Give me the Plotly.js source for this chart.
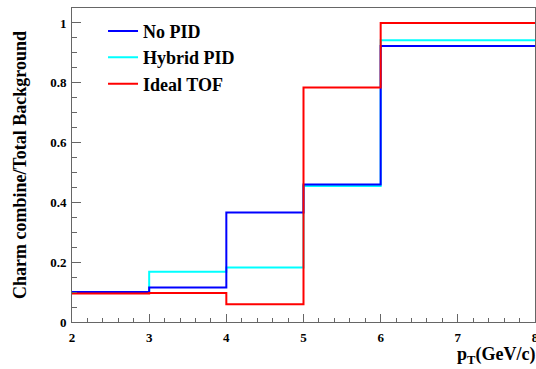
<!DOCTYPE html>
<html>
<head>
<meta charset="utf-8">
<script src="https://cdn.plot.ly/plotly-3.0.1.min.js"></script>
<style>html,body{margin:0;padding:0;background:#fff;}#chart{width:536px;height:369px;}</style>
</head>
<body>
<div id="chart"></div>
<script>
const binEdges = [2, 3, 4, 5, 6, 8];
const noPID = [0.100, 0.115, 0.366, 0.460, 0.923];
const hybridPID = [0.099, 0.168, 0.182, 0.455, 0.942];
const idealTOF = [0.095, 0.097, 0.059, 0.784, 1.000];
const seriesNames = ['No PID', 'Hybrid PID', 'Ideal TOF'];
const seriesColors = ['#0000ff', '#00ffff', '#ff0000'];

function stepY(v) { return v.concat([v[v.length - 1]]); }

const fam = 'Liberation Serif';
function f(size) { return {family: fam, size: size, weight: 'bold', color: '#000'}; }

function mk(vals, i, rank) {
  return {
    x: binEdges, y: stepY(vals), mode: 'lines', type: 'scatter',
    line: {shape: 'hv', color: seriesColors[i], width: 2},
    name: seriesNames[i], legendrank: rank,
    hoverinfo: 'skip'
  };
}

const traces = [mk(hybridPID, 1, 2), mk(noPID, 0, 1), mk(idealTOF, 2, 3)];

const axisCommon = {
  showline: true, mirror: true, linecolor: '#666', linewidth: 1,
  showgrid: false, zeroline: false, ticks: 'inside', tickcolor: '#666',
  tickfont: f(13), ticklabeloverflow: 'allow'
};

const layout = {
  width: 536, height: 369,
  margin: {l: 72, r: 1, t: 8, b: 47},
  paper_bgcolor: '#fff', plot_bgcolor: '#fff',
  showlegend: true,
  legend: {x: 0.067, y: 0.985, xanchor: 'left', yanchor: 'top',
    font: f(18), bgcolor: 'rgba(0,0,0,0)', itemwidth: 30},
  xaxis: Object.assign({}, axisCommon, {
    range: [2, 8], dtick: 1, tick0: 2, ticklen: 8, ticklabelstandoff: 3,
    minor: {dtick: 0.2, ticklen: 4, ticks: 'inside', tickcolor: '#666'}
  }),
  yaxis: Object.assign({}, axisCommon, {
    range: [0, 1.05], dtick: 0.2, tick0: 0, ticklen: 9, ticklabelstandoff: 2,
    minor: {dtick: 0.05, ticklen: 5, ticks: 'inside', tickcolor: '#666'},
    title: {text: 'Charm combine/Total Background', font: f(18), standoff: 18}
  }),
  annotations: [{
    text: 'p<sub>T</sub>(GeV/c)', xref: 'paper', yref: 'paper', x: 1, y: 0,
    xanchor: 'right', yanchor: 'top', yshift: -20, xshift: 2, showarrow: false,
    font: f(18)
  }]
};

Plotly.newPlot('chart', traces, layout, {displayModeBar: false, staticPlot: true});
</script>
</body>
</html>
